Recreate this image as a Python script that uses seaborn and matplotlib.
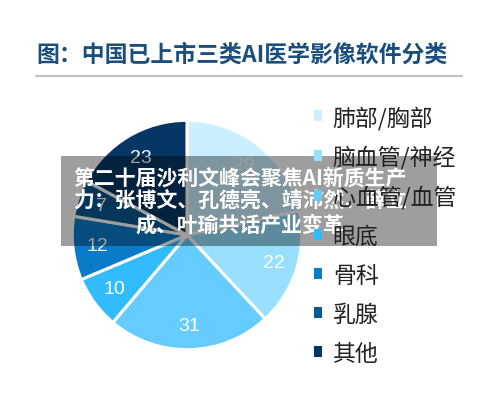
import matplotlib
matplotlib.use("Agg")
import matplotlib.pyplot as plt
import seaborn as sns
from matplotlib.patches import Rectangle
from matplotlib.lines import Line2D

# ---- data ----
categories = ["肺部/胸部", "脑血管/神经", "心血管/血管", "眼底", "骨科", "乳腺", "其他"]
values = [29, 22, 31, 10, 12, 7, 23]
colors = ["#CCEFFF", "#99DFFF", "#66CBFF", "#33BBFF", "#0A7BC8", "#0A5A94", "#063764"]
title = "图：中国已上市三类AI医学影像软件分类"
banner_lines = ["第二十届沙利文峰会聚焦AI新质生产",
                "力：张博文、孔德亮、靖沛然、薛立",
                "成、叶瑜共话产业变革"]

sns.set_theme(style="white")
plt.rcParams['font.family'] = ['Noto Sans CJK SC', 'DejaVu Sans']

W, H = 500, 406
fig = plt.figure(figsize=(W / 100, H / 100), dpi=100)
fig.patch.set_facecolor("white")

def fx(x):
    return x / W

def fy(y):
    return 1 - y / H

# pie axes: center (187,236), radius ~117 px
cx, cy, r = 187, 236, 117
ax = fig.add_axes([fx(cx - r), fy(cy + r), 2 * r / W, 2 * r / H])
total = sum(values)
wedges, texts, autotexts = ax.pie(
    values, colors=colors, startangle=90, counterclock=False,
    autopct=lambda p: f"{round(p * total / 100):d}", pctdistance=0.79,
    wedgeprops=dict(edgecolor="white", linewidth=2.2),
    textprops=dict(color="white", fontsize=14, family=['Liberation Sans', 'DejaVu Sans']))
ax.set_xlim(-1.02, 1.02)
ax.set_ylim(-1.02, 1.02)
ax.set_aspect("equal")
ax.axis("off")

# title and rule
fig.text(fx(36), fy(55), title, fontsize=16.5, fontweight="bold", color="#1B4E7C",
         ha="left", va="center")
fig.add_artist(Line2D([fx(36), fx(462)], [fy(77), fy(77)], color="#C4C4C4", linewidth=1.6))

# legend
leg = fig.legend(wedges, categories, loc="upper left", bbox_to_anchor=(fx(305), fy(97)),
                 frameon=False, fontsize=16.5, handlelength=0.36, handleheight=0.36,
                 handletextpad=0.45, labelspacing=0.70, borderaxespad=0)
for t in leg.get_texts():
    t.set_color("#222222")
for h in leg.legend_handles:
    h.set_edgecolor("none")

# overlay banner
fig.add_artist(Rectangle((fx(61), fy(247)), (437 - 61) / W, (247 - 157) / H,
                         transform=fig.transFigure, facecolor="black", alpha=0.38,
                         edgecolor="none"))
for i, line in enumerate(banner_lines):
    fig.text(fx(240), fy(178 + 23.5 * i), line, fontsize=15, fontweight="bold",
             color="white", ha="center", va="center")

fig.savefig("out.png", dpi=100)
